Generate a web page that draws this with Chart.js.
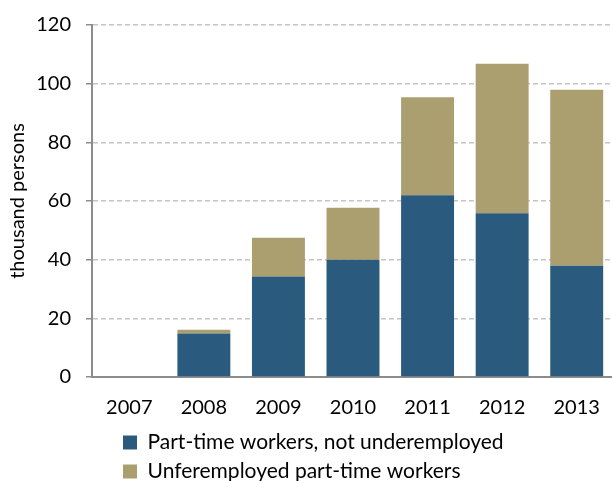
<!DOCTYPE html>
<html>
<head>
<meta charset="utf-8">
<script src="https://cdn.jsdelivr.net/npm/chart.js@4/dist/chart.umd.min.js"></script>
<style>
  html, body { margin: 0; padding: 0; background: #fff; overflow: hidden; }
  #wrap { width: 614px; height: 481px; }
</style>
</head>
<body>
<div id="wrap"><canvas id="c"></canvas></div>
<script>
const years = [ '2007', '2008', '2009', '2010', '2011', '2012', '2013' ];
const notUnderemployed = [ 0, 14.8, 34.3, 40.0, 62.0, 55.8, 37.9 ];
const underemployed = [ 0, 1.3, 13.2, 17.7, 33.4, 51.0, 60.0 ];
const seriesNames = [ 'Part-time workers, not underemployed', 'Unferemployed part-time workers' ];
const yTicks = [ 0, 20, 40, 60, 80, 100, 120 ];

const font = 'Lato, sans-serif';

Chart.defaults.font.family = font;
Chart.defaults.color = '#000';
Chart.defaults.animation = false;

// stack legend rows under the plot, starting a bit right of the axis
const legendShift = {
    id: 'legendShift',
    beforeDraw ( chart ) {
        chart.legend.left = 115;
        chart.legend.top = 424;
    }
};

new Chart( document.getElementById( 'c' ), {
    type: 'bar',
    data: {
        labels: years,
        datasets: [ {
            label: seriesNames[ 0 ],
            data: notUnderemployed,
            backgroundColor: '#2a5b7e'
        }, {
            label: seriesNames[ 1 ],
            data: underemployed,
            backgroundColor: '#ab9f6f'
        } ]
    },
    options: {
        responsive: true,
        maintainAspectRatio: false,
        layout: { padding: { top: 25, right: 0, left: 0, bottom: -9 } },
        datasets: {
            bar: { categoryPercentage: 1, barPercentage: 0.71 }
        },
        plugins: {
            tooltip: { enabled: false },
            legend: {
                position: 'bottom',
                align: 'start',
                labels: {
                    font: { size: 21 },
                    boxWidth: 14,
                    boxHeight: 14,
                    padding: 8,
                    color: '#000'
                }
            }
        },
        scales: {
            x: {
                stacked: true,
                grid: { display: false },
                border: { color: '#8c8c8c', width: 2 },
                ticks: { font: { size: 20 }, padding: 11 },
                afterFit ( scale ) {
                    scale.height = 45;
                }
            },
            y: {
                stacked: true,
                min: 0,
                max: 120,
                afterBuildTicks ( scale ) {
                    scale.ticks = yTicks.map( v => ( { value: v } ) );
                },
                afterFit ( scale ) {
                    scale.width = 92;
                    scale.paddingTop = 0;
                    scale.paddingBottom = 0;
                },
                grid: {
                    color: ( ctx ) => ctx.tick && ctx.tick.value === 0 ? 'rgba(0,0,0,0)' : '#c4c4c4',
                    tickColor: '#8c8c8c',
                    tickLength: 6,
                    lineWidth: 1.5
                },
                border: { color: '#8c8c8c', width: 2, dash: [ 5, 3 ] },
                ticks: { font: { size: 20 }, padding: 15 },
                title: {
                    display: true,
                    text: 'thousand persons',
                    font: { size: 20 },
                    padding: { top: 6, bottom: 0 }
                }
            }
        }
    },
    plugins: [ legendShift ]
} );
</script>
</body>
</html>
